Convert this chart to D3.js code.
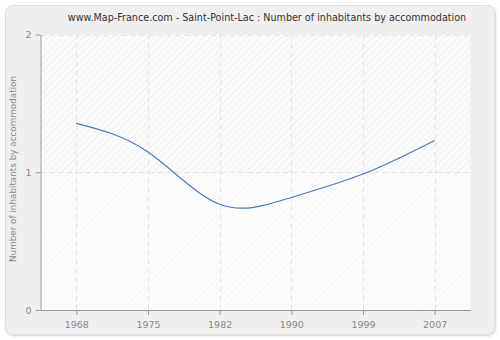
<!DOCTYPE html>
<html>
<head>
<meta charset="utf-8">
<script src="https://cdn.jsdelivr.net/npm/d3@7"></script>
<style>
  html, body { margin: 0; padding: 0; background: #fff; }
  svg { display: block; }
  text { font-family: "DejaVu Sans", Verdana, sans-serif; }
</style>
</head>
<body>
<svg id="chart" width="500" height="340"></svg>
<script>
// Census years and average inhabitants per dwelling
const years = ["1968", "1975", "1982", "1990", "1999", "2007"];
const inhabitants = [1.355, 1.147, 0.768, 0.817, 0.987, 1.231];
const yTicks = [0, 1, 2];
const title = "www.Map-France.com - Saint-Point-Lac : Number of inhabitants by accommodation";
const yLabel = "Number of inhabitants by accommodation";

const svg = d3.select("#chart");
const plot = { left: 40.5, right: 470.5, top: 34.5, bottom: 310 };

const defs = svg.append("defs");
// Soft drop shadow for the panel
const shadow = defs.append("filter").attr("id", "shadow")
  .attr("x", "-5%").attr("y", "-5%").attr("width", "110%").attr("height", "110%");
shadow.append("feGaussianBlur").attr("in", "SourceAlpha").attr("stdDeviation", 1.2);
shadow.append("feOffset").attr("dx", 1).attr("dy", 1);
shadow.append("feComponentTransfer").append("feFuncA").attr("type", "linear").attr("slope", 0.18);
const merge = shadow.append("feMerge");
merge.append("feMergeNode");
merge.append("feMergeNode").attr("in", "SourceGraphic");

function hatch(id, bg, line) {
  const p = defs.append("pattern").attr("id", id)
    .attr("patternUnits", "userSpaceOnUse").attr("width", 5).attr("height", 5)
    .attr("patternTransform", "rotate(45)");
  p.append("rect").attr("width", 5).attr("height", 5).attr("fill", bg);
  p.append("line").attr("x1", 0).attr("y1", 0).attr("x2", 0).attr("y2", 5)
    .attr("stroke", line).attr("stroke-width", 1.6);
}
hatch("hatchTop", "#fbfbfb", "#eeeeee");
hatch("hatchBottom", "#fcfcfc", "#f5f5f5");

svg.append("rect")
  .attr("x", 5.5).attr("y", 5.5).attr("width", 489).attr("height", 329)
  .attr("rx", 7).attr("ry", 7)
  .attr("fill", "#efefef").attr("stroke", "#dedede")
  .attr("filter", "url(#shadow)");

const x = d3.scalePoint().domain(years).range([plot.left, plot.right]).padding(0.5);
const y = d3.scaleLinear().domain([0, 2]).range([plot.bottom, plot.top]);

// Plot area: hatched upper and lower halves
svg.append("rect")
  .attr("x", plot.left).attr("y", y(2))
  .attr("width", plot.right - plot.left).attr("height", y(1) - y(2))
  .attr("fill", "url(#hatchTop)");
svg.append("rect")
  .attr("x", plot.left).attr("y", y(1))
  .attr("width", plot.right - plot.left).attr("height", y(0) - y(1))
  .attr("fill", "url(#hatchBottom)");

// Dashed grid
const grid = svg.append("g").attr("stroke", "#e2e2e2").attr("stroke-dasharray", "5,4").attr("fill", "none");
years.forEach(yr => {
  grid.append("line").attr("x1", Math.round(x(yr)) + 0.5).attr("x2", Math.round(x(yr)) + 0.5)
    .attr("y1", plot.top).attr("y2", plot.bottom);
});
yTicks.filter(v => v > 0).forEach(v => {
  grid.append("line").attr("x1", plot.left).attr("x2", plot.right)
    .attr("y1", Math.round(y(v)) + 0.5).attr("y2", Math.round(y(v)) + 0.5);
});

// Axes
const xAxis = svg.append("g")
  .attr("transform", `translate(0,${plot.bottom})`)
  .call(d3.axisBottom(x).tickSize(5).tickSizeOuter(0).tickPadding(6));
const yAxis = svg.append("g")
  .attr("transform", `translate(${plot.left},0)`)
  .call(d3.axisLeft(y).tickValues(yTicks).tickFormat(d3.format("d")).tickSize(5).tickSizeOuter(0).tickPadding(4));
[xAxis, yAxis].forEach(a => {
  a.select(".domain").attr("stroke", "#999");
  a.selectAll(".tick line").attr("stroke", "#999");
  a.selectAll(".tick text").attr("fill", "#888").style("font-size", "9.5px")
    .style("font-family", "'DejaVu Sans', Verdana, sans-serif");
});

// Curve
const line = d3.line()
  .x((d, i) => x(years[i]))
  .y(d => y(d))
  .curve(d3.curveNatural);
svg.append("path")
  .datum(inhabitants)
  .attr("d", line)
  .attr("fill", "none")
  .attr("stroke", "#4a78b0")
  .attr("stroke-width", 1.1);

// Title
svg.append("text")
  .attr("x", 267).attr("y", 21)
  .attr("text-anchor", "middle")
  .attr("fill", "#333")
  .style("font-size", "9.6px")
  .text(title);

// Y axis label
svg.append("text")
  .attr("transform", `translate(16,${(75 + 263) / 2}) rotate(-90)`)
  .attr("text-anchor", "middle")
  .attr("fill", "#888")
  .style("font-size", "8.8px")
  .text(yLabel);
</script>
</body>
</html>
